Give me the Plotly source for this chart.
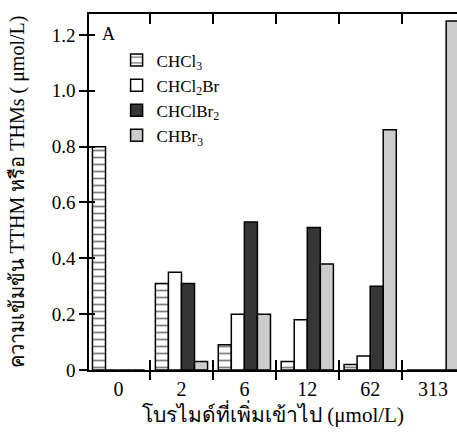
import plotly.graph_objects as go

categories = ["0", "2", "6", "12", "62", "313"]
chcl3 = [0.80, 0.31, 0.09, 0.03, 0.02, 0.0]
chcl2br = [0.0, 0.35, 0.20, 0.18, 0.05, 0.0]
chclbr2 = [0.0, 0.31, 0.53, 0.51, 0.30, 0.0]
chbr3 = [0.0, 0.03, 0.20, 0.38, 0.86, 1.25]
series_names = ["CHCl<sub>3</sub>", "CHCl<sub>2</sub>Br", "CHClBr<sub>2</sub>", "CHBr<sub>3</sub>"]
y_ticks = [0, 0.2, 0.4, 0.6, 0.8, 1.0, 1.2]
y_ticktext = ["0", "0.2", "0.4", "0.6", "0.8", "1.0", "1.2"]

SERIF = "Liberation Serif, Times New Roman, serif"
X_RANGE = [-0.47, 5.38]
Y_RANGE = [0, 1.275]

fig = go.Figure()
line = dict(color="black", width=1.5)
fig.add_trace(go.Bar(x=categories, y=chcl3, name=series_names[0],
                     marker=dict(color="white", line=line,
                                 pattern=dict(shape="-", fgcolor="black", bgcolor="white",
                                              size=7, solidity=0.25))))
fig.add_trace(go.Bar(x=categories, y=chcl2br, name=series_names[1],
                     marker=dict(color="white", line=line)))
fig.add_trace(go.Bar(x=categories, y=chclbr2, name=series_names[2],
                     marker=dict(color="#363636", line=line)))
fig.add_trace(go.Bar(x=categories, y=chbr3, name=series_names[3],
                     marker=dict(color="#cccccc", line=line)))
# helper trace for overlay axes (inner ticks)
fig.add_trace(go.Scatter(x=categories, y=[0] * len(categories), xaxis="x2", yaxis="y2",
                         mode="markers", marker=dict(opacity=0), showlegend=False,
                         hoverinfo="skip"))

fig.update_layout(
    width=457, height=435,
    margin=dict(l=89, r=0, t=14, b=65, autoexpand=False),
    paper_bgcolor="white", plot_bgcolor="white",
    barmode="group", bargap=0.17, bargroupgap=0,
    font=dict(family=SERIF, size=18, color="black"),
    showlegend=True,
    legend=dict(x=0.075, y=0.92, xanchor="left", yanchor="top",
                bgcolor="rgba(0,0,0,0)", font=dict(family=SERIF, size=17),
                tracegroupgap=0, itemwidth=30),
    xaxis=dict(type="category", categoryorder="array", categoryarray=categories,
               range=X_RANGE, autorange=False, automargin=False,
               showline=True, linecolor="black", linewidth=1.5,
               ticks="outside", ticklen=8, tickwidth=1.5, tickcolor="black",
               tickson="boundaries", showgrid=False, zeroline=False,
               tickfont=dict(family=SERIF, size=20),
               title=dict(text="โบรไมด์ที่เพิ่มเข้าไป (μmol/L)",
                          font=dict(family=SERIF, size=21), standoff=9)),
    xaxis2=dict(type="category", categoryorder="array", categoryarray=categories,
                overlaying="x", anchor="y2", range=X_RANGE, autorange=False,
                automargin=False,
                showline=True, linecolor="black", linewidth=1.5, mirror="ticks",
                ticks="inside", ticklen=10, tickwidth=1.5, tickcolor="black",
                tickson="boundaries", showticklabels=False, showgrid=False, zeroline=False),
    yaxis=dict(range=Y_RANGE, autorange=False, automargin=False,
               tickvals=y_ticks, ticktext=y_ticktext,
               showline=True, linecolor="black", linewidth=1.5,
               ticks="outside", ticklen=8, tickwidth=1.5, tickcolor="black",
               showgrid=False, zeroline=False,
               tickfont=dict(family=SERIF, size=19),
               title=dict(text="ความเข้มข้น TTHM หรือ THMs ( μmol/L)",
                          font=dict(family=SERIF, size=20), standoff=22)),
    yaxis2=dict(overlaying="y", anchor="x2", side="left", range=Y_RANGE,
                autorange=False, automargin=False,
                tickvals=y_ticks, ticks="inside", ticklen=6, tickwidth=1.5,
                tickcolor="black", showticklabels=False, showgrid=False,
                zeroline=False, showline=False),
    annotations=[dict(text="A", x=0.03, y=0.945, xref="paper", yref="paper",
                      xanchor="left", yanchor="middle", showarrow=False,
                      font=dict(family=SERIF, size=18))],
)

fig.write_html(
    "out.html",
    config={"displayModeBar": False},
    post_script="document.body.style.margin='0';document.body.style.overflow='hidden';",
)
